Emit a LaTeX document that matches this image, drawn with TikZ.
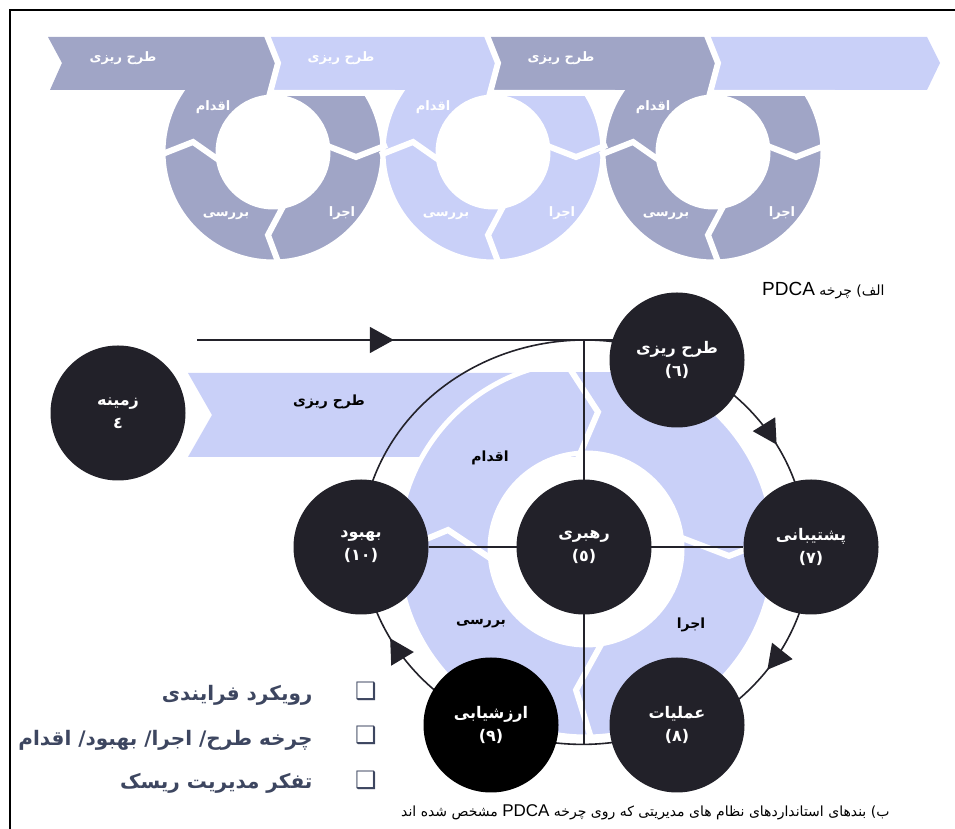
\documentclass[tikz,border=0pt]{standalone}
\usepackage{fontspec}
\usepackage{tikz}
\usetikzlibrary{arrows.meta,decorations.markings,backgrounds}
\TeXXeTstate=1
\newfontfamily\fa[Script=Arabic]{DejaVu Sans}
\newfontfamily\lat{Liberation Sans}
\definecolor{wheeldark}{HTML}{A0A5C6}
\definecolor{wheellight}{HTML}{C9D0F8}
\definecolor{clausefill}{HTML}{222129}
\definecolor{linecol}{HTML}{23222A}
\definecolor{listcol}{HTML}{3D4660}
\tikzset{clause/.style={circle,fill=clausefill,minimum size=135pt,inner sep=0pt,
    text=white,align=center,font=\fa\bfseries\fontsize{16}{23}\selectfont},
  wheeltext/.style={text=white,font=\fa\bfseries\fontsize{13}{15}\selectfont},
  ringtext/.style={text=black,font=\fa\bfseries\fontsize{14}{16}\selectfont},
  gap/.style={draw=white,line width=6pt},
  cycleline/.style={draw=linecol,line width=1.6pt},
  midarrow/.style={postaction={decorate},decoration={markings,
      mark=at position #1 with {\arrow{Triangle[length=24pt,width=26pt]}}}},
  listtext/.style={text=listcol,anchor=east,font=\fa\bfseries\fontsize{20}{22}\selectfont},
  checkbox/.style={text=listcol,font=\fa\bfseries\fontsize{24}{24}\selectfont},
  caption/.style={anchor=east,font=\fa\fontsize{14}{16}\selectfont}}

\begin{document}
\begin{tikzpicture}[x=1pt,y=1pt]
\useasboundingbox (0,0) rectangle (955,829);
\draw[line width=1.5pt] (955,819) -- (10,819) -- (10,0);

% clauses
\node[clause] (rahbari) at (584,282) {\beginR رهبری\endR\\(٥)};
\node[clause] (tarh) at (677,469) {\beginR طرح ریزی\endR\\(٦)};
\node[clause] (poshtibani) at (811,282) {\beginR پشتیبانی\endR\\(٧)};
\node[clause] (amaliat) at (677,104) {\beginR عملیات\endR\\(٨)};
\node[clause,fill=black] (arzesh) at (491,104) {\beginR ارزشیابی\endR\\(٩)};
\node[clause] (behbud) at (361,282) {\beginR بهبود\endR\\(١٠)};
\node[clause] (zamineh) at (118,416) {\beginR زمینه\endR\\٤};
\coordinate (entry) at (197,489);
\coordinate (top) at (584,489);
\coordinate (bottom) at (584,85);

\begin{scope}[on background layer]
  % top row of wheels
  \foreach \cx/\col in {273/wheeldark,493/wheellight,713/wheeldark}
    \filldraw[fill=\col,draw=white,line width=5pt,even odd rule]
      (\cx,677) circle (110) (\cx,677) circle (55);
  \fill[wheeldark] (48,792) -- (266,792) -- (278,766) -- (270,739) -- (50,739) -- (62,766) -- cycle;
  \fill[wheellight] (266,792) -- (486,792) -- (498,766) -- (490,739) -- (270,739) -- (278,766) -- cycle;
  \fill[wheeldark] (486,792) -- (706,792) -- (718,766) -- (710,739) -- (490,739) -- (498,766) -- cycle;
  \fill[wheellight] (706,792) -- (927,792) -- (940,766) -- (927,739) -- (710,739) -- (718,766) -- cycle;
  \foreach \cx in {273,493,713} {
    \draw[gap] (\cx-7,796) -- (\cx+5,766) -- (\cx-3,736) -- (\cx+122,736);
    \draw[gap] (\cx-113,674) -- (\cx-80,687) -- (\cx-50,666);
    \draw[gap] (\cx+52,684) -- (\cx+83,672) -- (\cx+114,684);
    \draw[gap] (\cx+13,628) -- (\cx-5,594) -- (\cx+7,562);
  }

  % big wheel
  \fill[wheellight] (188,456) -- (572,456) -- (598,417) -- (577,372) -- (188,372) -- (212,414) -- cycle;
  \begin{scope}
    \clip (0,0) rectangle (955,456);
    \filldraw[fill=wheellight,draw=white,line width=5pt,even odd rule]
      (586,280) circle (188) (586,280) circle (96);
  \end{scope}
  \draw[gap] (570,460) -- (598,417) -- (577,368);
  \draw[gap] (682,291) -- (729,273) -- (775,291);
  \draw[gap] (400,279) -- (448,299) -- (496,267);
  \draw[gap] (603,188) -- (576,139) -- (592,88);

  % cycle
  \draw[cycleline,midarrow=0.41] (entry) -- (entry -| tarh);
  \draw[cycleline] (top) -- (bottom);
  \draw[cycleline] (behbud) -- (poshtibani);
  \draw[cycleline,midarrow=0.55] (tarh.center) arc[start angle=65,end angle=0,x radius=224,y radius=207];
  \draw[cycleline,midarrow=0.55] (poshtibani.center) arc[start angle=0,end angle=-65,x radius=224,y radius=207];
  \draw[cycleline] (amaliat.center) arc[start angle=-65,end angle=-115,x radius=224,y radius=207];
  \draw[cycleline,midarrow=0.56] (arzesh.center) arc[start angle=245,end angle=180,x radius=224,y radius=207];
  \draw[cycleline] (behbud.center) arc[start angle=180,end angle=65,x radius=224,y radius=207];
\end{scope}

% wheel labels
\foreach \cx in {273,493,713} {
  \node[wheeltext] at (\cx-60,722) {\beginR اقدام\endR};
  \node[wheeltext] at (\cx-47,613) {\beginR بررسی\endR};
  \node[wheeltext] at (\cx+69,616) {\beginR اجرا\endR};
}
\node[wheeltext] at (123,771) {\beginR طرح ریزی\endR};
\node[wheeltext] at (341,771) {\beginR طرح ریزی\endR};
\node[wheeltext] at (561,771) {\beginR طرح ریزی\endR};

\node[ringtext] at (329,427) {\beginR طرح ریزی\endR};
\node[ringtext] at (490,371) {\beginR اقدام\endR};
\node[ringtext] at (481,205) {\beginR بررسی\endR};
\node[ringtext] at (691,204) {\beginR اجرا\endR};

% list
\node[listtext] (item1) at (316,134) {\beginR رویکرد فرایندی\endR};
\node[listtext] (item2) at (316,89) {\beginR چرخه طرح/ اجرا/ بهبود/ اقدام\endR};
\node[listtext] (item3) at (316,46) {\beginR تفکر مدیریت ریسک\endR};
\node[checkbox] at (366,138) {❑};
\node[checkbox] at (366,94) {❑};
\node[checkbox] at (366,49) {❑};

% captions
\node[caption] (capa) at (888,538) {\beginR الف) چرخه \beginL{\lat\fontsize{19}{19}\selectfont PDCA}\endL\endR};
\node[caption] (capb) at (893,17) {\beginR ب) بندهای استانداردهای نظام های مدیریتی که روی چرخه \beginL{\lat\fontsize{17}{17}\selectfont PDCA}\endL{} مشخص شده اند\endR};
\end{tikzpicture}
\end{document}
